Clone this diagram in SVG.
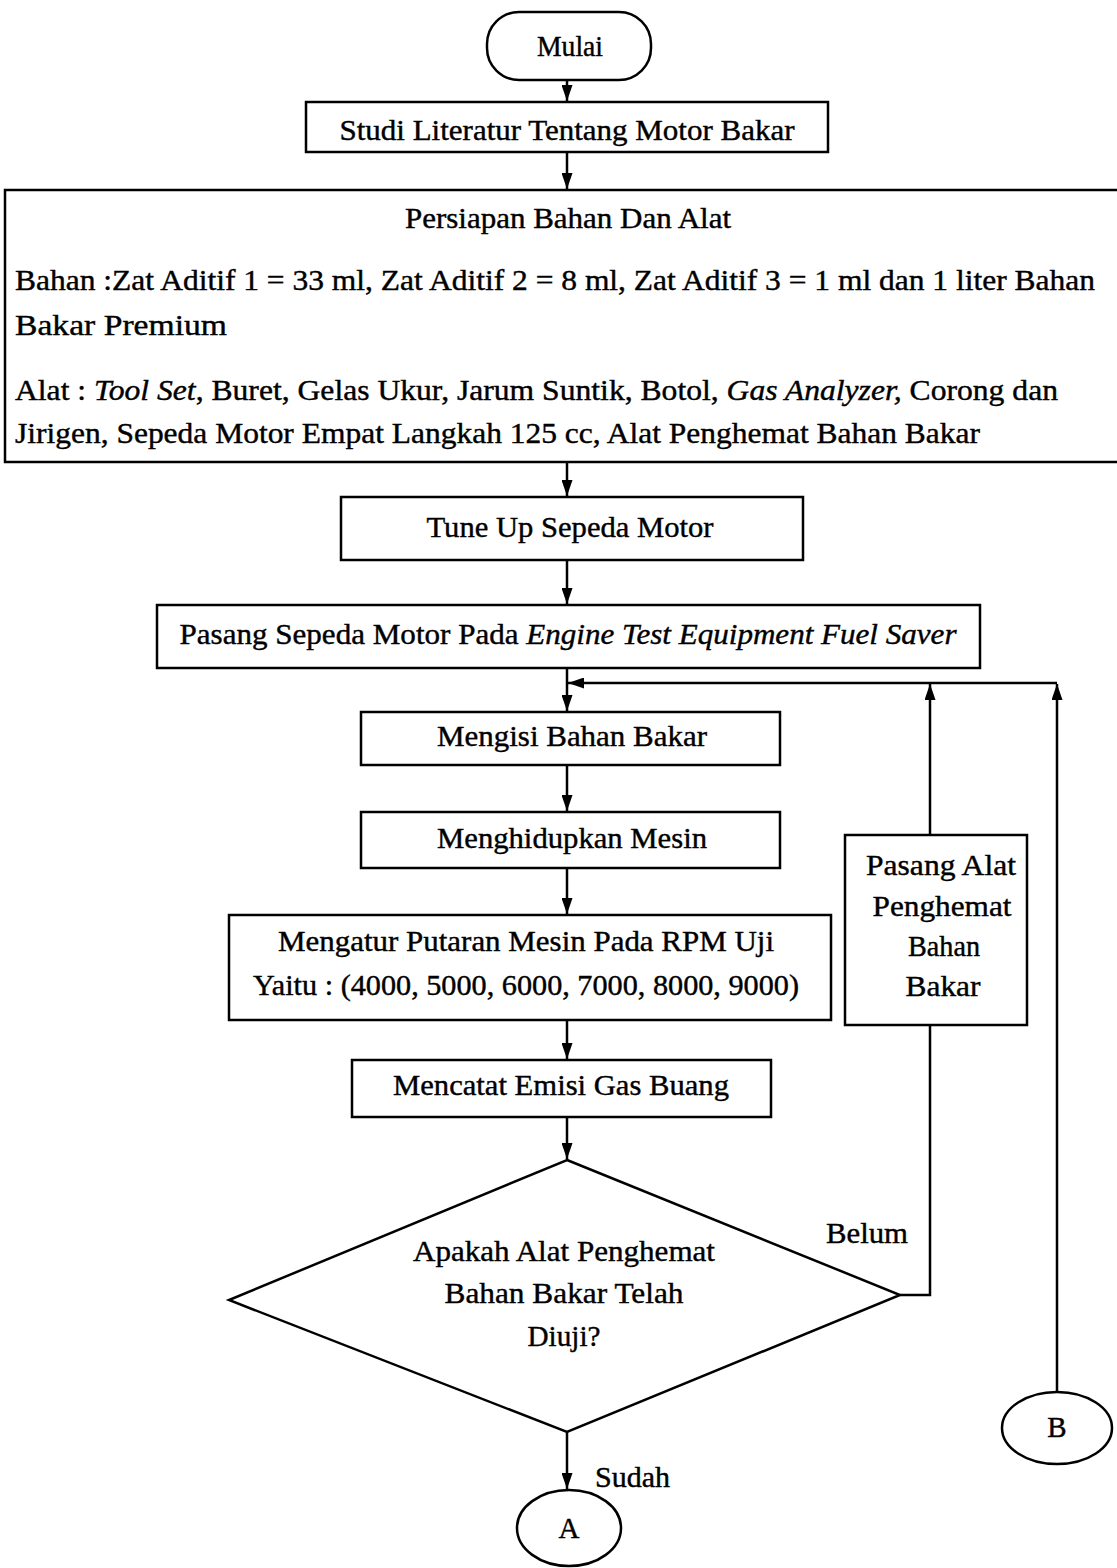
<svg xmlns="http://www.w3.org/2000/svg" width="1117" height="1568" viewBox="0 0 1117 1568">
<defs>
<marker id="ah" viewBox="0 0 16 11" refX="16" refY="5.5" markerWidth="16" markerHeight="11" markerUnits="userSpaceOnUse" orient="auto">
<path d="M0,0 L16,5.5 L0,11 Z" fill="#000"/>
</marker>
<style>
.box{fill:#fff;stroke:#000;stroke-width:2.5}
.ln{fill:none;stroke:#000;stroke-width:2.5}
.t{font-family:"Liberation Serif","Times New Roman",serif;font-size:29px;fill:#000;stroke:#000;stroke-width:0.4}
.c{text-anchor:middle}
</style>
</defs>
<rect width="1117" height="1568" fill="#fff"/>
<g id="connectors">
<line class="ln" x1="567" y1="80" x2="567" y2="101" marker-end="url(#ah)"/>
<line class="ln" x1="567" y1="152" x2="567" y2="189" marker-end="url(#ah)"/>
<line class="ln" x1="567" y1="462" x2="567" y2="496" marker-end="url(#ah)"/>
<line class="ln" x1="567" y1="560" x2="567" y2="604" marker-end="url(#ah)"/>
<line class="ln" x1="567" y1="668" x2="567" y2="711" marker-end="url(#ah)"/>
<line class="ln" x1="567" y1="765" x2="567" y2="811" marker-end="url(#ah)"/>
<line class="ln" x1="567" y1="868" x2="567" y2="914" marker-end="url(#ah)"/>
<line class="ln" x1="567" y1="1020" x2="567" y2="1059" marker-end="url(#ah)"/>
<line class="ln" x1="567" y1="1117" x2="567" y2="1159" marker-end="url(#ah)"/>
<line class="ln" x1="567" y1="1432" x2="567" y2="1489" marker-end="url(#ah)"/>
<polyline class="ln" points="900,1295 930,1295 930,1025"/>
<line class="ln" x1="930" y1="835" x2="930" y2="684" marker-end="url(#ah)"/>
<line class="ln" x1="1057" y1="1392" x2="1057" y2="684" marker-end="url(#ah)"/>
<line class="ln" x1="1057" y1="683" x2="568" y2="683" marker-end="url(#ah)"/>
<text class="t" x="826" y="1243" textLength="82" lengthAdjust="spacingAndGlyphs">Belum</text>
<text class="t" x="595" y="1487" textLength="75" lengthAdjust="spacingAndGlyphs">Sudah</text>
</g>
<g id="mulai">
<rect class="box" x="487" y="12" width="164" height="68" rx="32" ry="32"/>
<text class="t c" x="570" y="56" textLength="66" lengthAdjust="spacingAndGlyphs">Mulai</text>
</g>
<g id="studi">
<rect class="box" x="306" y="102" width="522" height="50"/>
<text class="t c" x="567" y="140" textLength="455" lengthAdjust="spacingAndGlyphs">Studi Literatur Tentang Motor Bakar</text>
</g>
<g id="persiapan">
<rect class="box" x="5" y="190" width="1120" height="272"/>
<text class="t c" x="568" y="228" textLength="326" lengthAdjust="spacingAndGlyphs">Persiapan Bahan Dan Alat</text>
<text class="t" x="15" y="290" textLength="1080" lengthAdjust="spacingAndGlyphs">Bahan :Zat Aditif 1 = 33 ml, Zat Aditif 2 = 8 ml, Zat Aditif 3 = 1 ml dan 1 liter Bahan</text>
<text class="t" x="15" y="335" textLength="212" lengthAdjust="spacingAndGlyphs">Bakar Premium</text>
<text class="t" x="15" y="400" textLength="1043" lengthAdjust="spacingAndGlyphs">Alat : <tspan font-style="italic">Tool Set</tspan>, Buret, Gelas Ukur, Jarum Suntik, Botol, <tspan font-style="italic">Gas Analyzer,</tspan> Corong dan</text>
<text class="t" x="15" y="443" textLength="965" lengthAdjust="spacingAndGlyphs">Jirigen, Sepeda Motor Empat Langkah 125 cc, Alat Penghemat Bahan Bakar</text>
</g>
<g id="tuneup">
<rect class="box" x="341" y="497" width="462" height="63"/>
<text class="t c" x="570" y="537" textLength="287" lengthAdjust="spacingAndGlyphs">Tune Up Sepeda Motor</text>
</g>
<g id="pasang">
<rect class="box" x="157" y="605" width="823" height="63"/>
<text class="t c" x="568" y="644" textLength="777" lengthAdjust="spacingAndGlyphs">Pasang Sepeda Motor Pada <tspan font-style="italic">Engine Test Equipment Fuel Saver</tspan></text>
</g>
<g id="mengisi">
<rect class="box" x="361" y="712" width="419" height="53"/>
<text class="t c" x="572" y="746" textLength="270" lengthAdjust="spacingAndGlyphs">Mengisi Bahan Bakar</text>
</g>
<g id="menghidupkan">
<rect class="box" x="361" y="812" width="419" height="56"/>
<text class="t c" x="572" y="848" textLength="270" lengthAdjust="spacingAndGlyphs">Menghidupkan Mesin</text>
</g>
<g id="mengatur">
<rect class="box" x="229" y="915" width="602" height="105"/>
<text class="t c" x="526" y="951" textLength="496" lengthAdjust="spacingAndGlyphs">Mengatur Putaran Mesin Pada RPM Uji</text>
<text class="t c" x="526" y="995" textLength="546" lengthAdjust="spacingAndGlyphs">Yaitu : (4000, 5000, 6000, 7000, 8000, 9000)</text>
</g>
<g id="mencatat">
<rect class="box" x="352" y="1060" width="419" height="57"/>
<text class="t c" x="561" y="1095" textLength="336" lengthAdjust="spacingAndGlyphs">Mencatat Emisi Gas Buang</text>
</g>
<g id="diuji">
<polygon class="box" points="567,1160 900,1295 567,1432 229,1300"/>
<text class="t c" x="564" y="1261" textLength="302" lengthAdjust="spacingAndGlyphs">Apakah Alat Penghemat</text>
<text class="t c" x="564" y="1303" textLength="239" lengthAdjust="spacingAndGlyphs">Bahan Bakar Telah</text>
<text class="t c" x="564" y="1346" textLength="73" lengthAdjust="spacingAndGlyphs">Diuji?</text>
</g>
<g id="pasangalat">
<rect class="box" x="845" y="835" width="182" height="190"/>
<text class="t c" x="941" y="875" textLength="150" lengthAdjust="spacingAndGlyphs">Pasang Alat</text>
<text class="t c" x="942" y="916" textLength="139" lengthAdjust="spacingAndGlyphs">Penghemat</text>
<text class="t c" x="944" y="956" textLength="72" lengthAdjust="spacingAndGlyphs">Bahan</text>
<text class="t c" x="943" y="996" textLength="75" lengthAdjust="spacingAndGlyphs">Bakar</text>
</g>
<g id="b">
<ellipse class="box" cx="1057" cy="1428" rx="55" ry="36"/>
<text class="t c" x="1057" y="1437">B</text>
</g>
<g id="a">
<ellipse class="box" cx="569" cy="1528" rx="52" ry="38"/>
<text class="t c" x="569" y="1538">A</text>
</g>
</svg>
